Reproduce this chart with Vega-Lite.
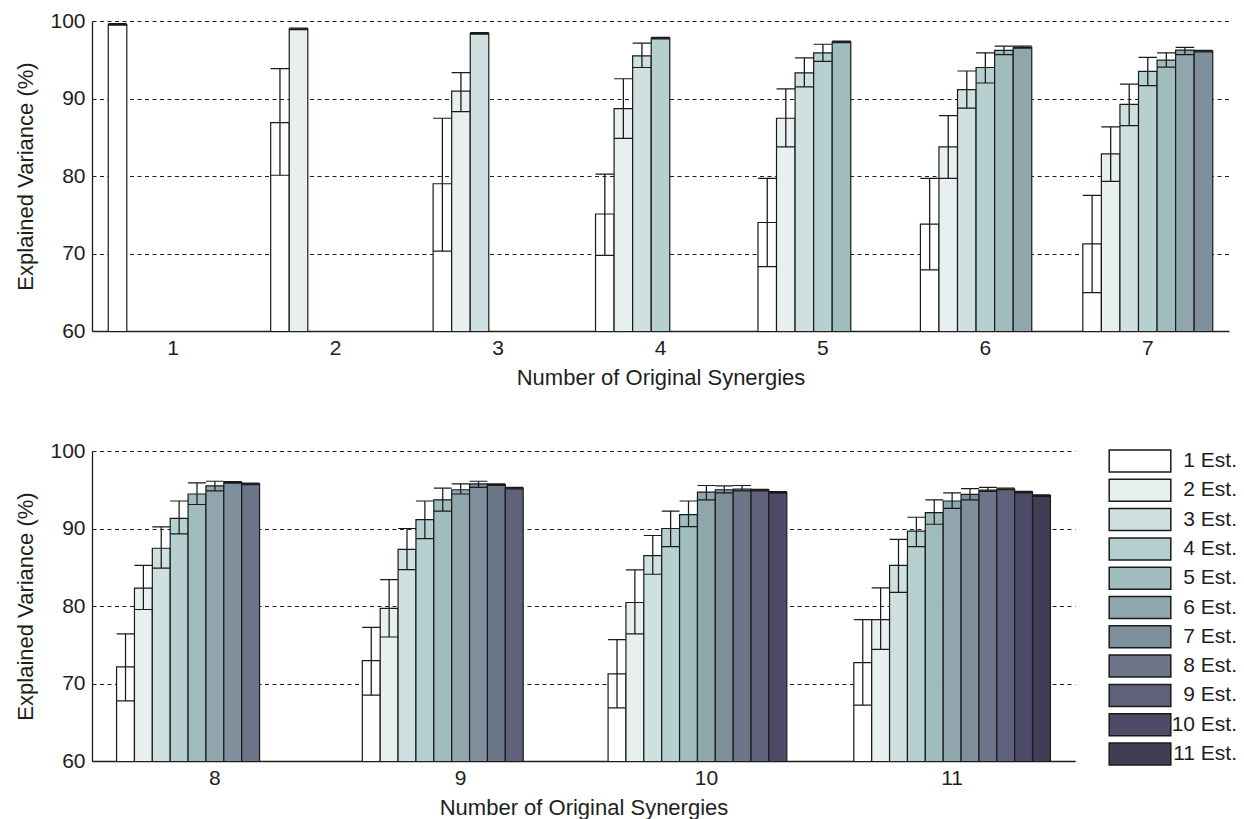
{
  "$schema": "https://vega.github.io/schema/vega-lite/v6.json",
  "background": "white",
  "padding": {"left": 14, "top": 10, "right": 4, "bottom": 4},
  "spacing": 52,
  "config": {
    "font": "Liberation Sans",
    "view": {"stroke": null},
    "axis": {
      "labelFontSize": 21,
      "titleFontSize": 22,
      "labelColor": "#1e1e1e",
      "titleColor": "#1e1e1e",
      "titleFontWeight": "normal",
      "domainColor": "#1e1e1e",
      "domainWidth": 1.3,
      "ticks": false
    },
    "legend": {
      "labelFontSize": 21,
      "labelColor": "#1e1e1e"
    }
  },
  "datasets": {
    "ev": [
      {"orig": 1, "est": 1, "mean": 99.55, "lo": 99.45, "hi": 99.65},
      {"orig": 2, "est": 1, "mean": 86.9, "lo": 80.1, "hi": 93.85},
      {"orig": 2, "est": 2, "mean": 99.0, "lo": 98.9, "hi": 99.1},
      {"orig": 3, "est": 1, "mean": 79.0, "lo": 70.3, "hi": 87.45},
      {"orig": 3, "est": 2, "mean": 90.95, "lo": 88.3, "hi": 93.35},
      {"orig": 3, "est": 3, "mean": 98.4, "lo": 98.3, "hi": 98.5},
      {"orig": 4, "est": 1, "mean": 75.1, "lo": 69.75, "hi": 80.25},
      {"orig": 4, "est": 2, "mean": 88.7, "lo": 84.85, "hi": 92.55},
      {"orig": 4, "est": 3, "mean": 95.5, "lo": 94.0, "hi": 97.15},
      {"orig": 4, "est": 4, "mean": 97.8, "lo": 97.7, "hi": 97.9},
      {"orig": 5, "est": 1, "mean": 74.0, "lo": 68.3, "hi": 79.7},
      {"orig": 5, "est": 2, "mean": 87.45, "lo": 83.75, "hi": 91.25},
      {"orig": 5, "est": 3, "mean": 93.3, "lo": 91.5, "hi": 95.25},
      {"orig": 5, "est": 4, "mean": 95.9, "lo": 94.8, "hi": 97.0},
      {"orig": 5, "est": 5, "mean": 97.3, "lo": 97.2, "hi": 97.4},
      {"orig": 6, "est": 1, "mean": 73.8, "lo": 67.9, "hi": 79.7},
      {"orig": 6, "est": 2, "mean": 83.75, "lo": 79.7, "hi": 87.8},
      {"orig": 6, "est": 3, "mean": 91.15, "lo": 88.75, "hi": 93.55},
      {"orig": 6, "est": 4, "mean": 94.0, "lo": 92.0, "hi": 95.9},
      {"orig": 6, "est": 5, "mean": 96.2, "lo": 95.65, "hi": 96.75},
      {"orig": 6, "est": 6, "mean": 96.6, "lo": 96.5, "hi": 96.75},
      {"orig": 7, "est": 1, "mean": 71.25, "lo": 64.95, "hi": 77.5},
      {"orig": 7, "est": 2, "mean": 82.85, "lo": 79.3, "hi": 86.35},
      {"orig": 7, "est": 3, "mean": 89.25, "lo": 86.5, "hi": 91.85},
      {"orig": 7, "est": 4, "mean": 93.5, "lo": 91.65, "hi": 95.3},
      {"orig": 7, "est": 5, "mean": 94.95, "lo": 94.05, "hi": 95.9},
      {"orig": 7, "est": 6, "mean": 96.25, "lo": 95.65, "hi": 96.6},
      {"orig": 7, "est": 7, "mean": 96.1, "lo": 96.0, "hi": 96.2},
      {"orig": 8, "est": 1, "mean": 72.15, "lo": 67.75, "hi": 76.4},
      {"orig": 8, "est": 2, "mean": 82.3, "lo": 79.55, "hi": 85.25},
      {"orig": 8, "est": 3, "mean": 87.45, "lo": 84.9, "hi": 90.2},
      {"orig": 8, "est": 4, "mean": 91.3, "lo": 89.3, "hi": 93.55},
      {"orig": 8, "est": 5, "mean": 94.45, "lo": 93.1, "hi": 95.9},
      {"orig": 8, "est": 6, "mean": 95.5, "lo": 94.85, "hi": 96.1},
      {"orig": 8, "est": 7, "mean": 95.95, "lo": 95.85, "hi": 96.05},
      {"orig": 8, "est": 8, "mean": 95.75, "lo": 95.65, "hi": 95.85},
      {"orig": 9, "est": 1, "mean": 72.95, "lo": 68.5, "hi": 77.25},
      {"orig": 9, "est": 2, "mean": 79.7, "lo": 76.0, "hi": 83.4},
      {"orig": 9, "est": 3, "mean": 87.3, "lo": 84.7, "hi": 90.0},
      {"orig": 9, "est": 4, "mean": 91.15, "lo": 88.7, "hi": 93.55},
      {"orig": 9, "est": 5, "mean": 93.7, "lo": 92.25, "hi": 95.2},
      {"orig": 9, "est": 6, "mean": 95.0, "lo": 94.45, "hi": 95.75},
      {"orig": 9, "est": 7, "mean": 95.75, "lo": 95.3, "hi": 96.1},
      {"orig": 9, "est": 8, "mean": 95.65, "lo": 95.55, "hi": 95.75},
      {"orig": 9, "est": 9, "mean": 95.2, "lo": 95.1, "hi": 95.3},
      {"orig": 10, "est": 1, "mean": 71.25, "lo": 66.85, "hi": 75.65},
      {"orig": 10, "est": 2, "mean": 80.45, "lo": 76.4, "hi": 84.65},
      {"orig": 10, "est": 3, "mean": 86.5, "lo": 84.1, "hi": 89.1},
      {"orig": 10, "est": 4, "mean": 90.0, "lo": 87.65, "hi": 92.25},
      {"orig": 10, "est": 5, "mean": 91.8, "lo": 90.25, "hi": 93.55},
      {"orig": 10, "est": 6, "mean": 94.7, "lo": 93.7, "hi": 95.55},
      {"orig": 10, "est": 7, "mean": 95.0, "lo": 94.6, "hi": 95.5},
      {"orig": 10, "est": 8, "mean": 95.1, "lo": 94.85, "hi": 95.55},
      {"orig": 10, "est": 9, "mean": 94.95, "lo": 94.85, "hi": 95.05},
      {"orig": 10, "est": 10, "mean": 94.65, "lo": 94.55, "hi": 94.75},
      {"orig": 11, "est": 1, "mean": 72.7, "lo": 67.2, "hi": 78.25},
      {"orig": 11, "est": 2, "mean": 78.25, "lo": 74.4, "hi": 82.35},
      {"orig": 11, "est": 3, "mean": 85.25, "lo": 81.75, "hi": 88.6},
      {"orig": 11, "est": 4, "mean": 89.65, "lo": 87.65, "hi": 91.45},
      {"orig": 11, "est": 5, "mean": 92.05, "lo": 90.55, "hi": 93.7},
      {"orig": 11, "est": 6, "mean": 93.55, "lo": 92.6, "hi": 94.6},
      {"orig": 11, "est": 7, "mean": 94.4, "lo": 93.7, "hi": 95.15},
      {"orig": 11, "est": 8, "mean": 94.95, "lo": 94.8, "hi": 95.3},
      {"orig": 11, "est": 9, "mean": 95.1, "lo": 95.0, "hi": 95.2},
      {"orig": 11, "est": 10, "mean": 94.7, "lo": 94.6, "hi": 94.8},
      {"orig": 11, "est": 11, "mean": 94.25, "lo": 94.15, "hi": 94.35}
    ]
  },
  "resolve": {"scale": {"color": "independent", "x": "independent", "xOffset": "independent"}},
  "vconcat": [
    {
      "width": 1137,
      "height": 310,
      "data": {"name": "ev"},
      "transform": [{"filter": "datum.orig <= 7"}],
      "resolve": {"scale": {"xOffset": "independent"}},
      "encoding": {
        "x": {
          "field": "orig", "type": "ordinal",
          "scale": {"domain": [1, 2, 3, 4, 5, 6, 7], "paddingInner": 0.2, "paddingOuter": 0.1},
          "axis": {"title": "Number of Original Synergies", "labelAngle": 0, "labelPadding": 6, "titlePadding": 9}
        }
      },
      "layer": [
        {
          "mark": {"type": "bar", "clip": true, "stroke": "#1a1a1a", "strokeWidth": 1.2, "opacity": 1},
          "encoding": {
            "xOffset": {
              "field": "est", "type": "ordinal",
              "scale": {"domain": [1, 2, 3, 4, 5, 6, 7], "paddingInner": 0, "paddingOuter": 0}
            },
            "y": {
              "field": "mean", "type": "quantitative",
              "scale": {"domain": [60, 100], "zero": false, "nice": false},
              "axis": {
                "title": "Explained Variance (%)", "values": [60, 70, 80, 90, 100],
                "grid": true, "gridColor": "#1e1e1e", "gridDash": [4, 3.5], "gridWidth": 1,
                "labelPadding": 7, "titlePadding": 12
              }
            },
            "y2": {"datum": 40},
            "color": {
              "field": "est", "type": "ordinal",
              "scale": {
                "domain": [1, 2, 3, 4, 5, 6, 7, 8, 9, 10, 11],
                "range": ["#ffffff", "#e7f0ef", "#cee0df", "#b6d0d0", "#a0bcbd", "#8fa7ac", "#7f8f9b", "#6d7589", "#5e6179", "#4e4b68", "#3f3e55"]
              },
              "legend": null
            }
          }
        },
        {
          "mark": {"type": "bar", "fill": "#1a1a1a", "strokeWidth": 0},
          "encoding": {
            "xOffset": {
              "field": "est", "type": "ordinal",
              "scale": {"domain": [1, 2, 3, 4, 5, 6, 7], "paddingInner": 0.93, "paddingOuter": 0.465}
            },
            "y": {"field": "lo", "type": "quantitative"},
            "y2": {"field": "hi"}
          }
        },
        {
          "mark": {"type": "bar", "fill": null, "stroke": "#1a1a1a", "strokeWidth": 1.2},
          "encoding": {
            "xOffset": {
              "field": "est", "type": "ordinal",
              "scale": {"domain": [1, 2, 3, 4, 5, 6, 7], "paddingInner": 0, "paddingOuter": 0}
            },
            "y": {"field": "hi", "type": "quantitative"},
            "y2": {"field": "hi"}
          }
        },
        {
          "mark": {"type": "bar", "fill": null, "stroke": "#1a1a1a", "strokeWidth": 1.2},
          "encoding": {
            "xOffset": {
              "field": "est", "type": "ordinal",
              "scale": {"domain": [1, 2, 3, 4, 5, 6, 7], "paddingInner": 0, "paddingOuter": 0}
            },
            "y": {"field": "lo", "type": "quantitative"},
            "y2": {"field": "lo"}
          }
        }
      ]
    },
    {
      "width": 983,
      "height": 310,
      "data": {"name": "ev"},
      "transform": [{"filter": "datum.orig >= 8"}],
      "resolve": {"scale": {"xOffset": "independent"}},
      "encoding": {
        "x": {
          "field": "orig", "type": "ordinal",
          "scale": {"domain": [8, 9, 10, 11], "paddingInner": 0.2, "paddingOuter": 0.1},
          "axis": {"title": "Number of Original Synergies", "labelAngle": 0, "labelPadding": 6, "titlePadding": 9}
        }
      },
      "layer": [
        {
          "mark": {"type": "bar", "clip": true, "stroke": "#1a1a1a", "strokeWidth": 1.2, "opacity": 1},
          "encoding": {
            "xOffset": {
              "field": "est", "type": "ordinal",
              "scale": {"domain": [1, 2, 3, 4, 5, 6, 7, 8, 9, 10, 11], "paddingInner": 0, "paddingOuter": 0}
            },
            "y": {
              "field": "mean", "type": "quantitative",
              "scale": {"domain": [60, 100], "zero": false, "nice": false},
              "axis": {
                "title": "Explained Variance (%)", "values": [60, 70, 80, 90, 100],
                "grid": true, "gridColor": "#1e1e1e", "gridDash": [4, 3.5], "gridWidth": 1,
                "labelPadding": 7, "titlePadding": 12
              }
            },
            "y2": {"datum": 40},
            "color": {
              "field": "est", "type": "ordinal",
              "scale": {
                "domain": [1, 2, 3, 4, 5, 6, 7, 8, 9, 10, 11],
                "range": ["#ffffff", "#e7f0ef", "#cee0df", "#b6d0d0", "#a0bcbd", "#8fa7ac", "#7f8f9b", "#6d7589", "#5e6179", "#4e4b68", "#3f3e55"]
              },
              "legend": {
                "title": null,
                "orient": "none",
                "legendX": 1036,
                "legendY": -2,
                "symbolType": "M-2.8,-1H2.8V1H-2.8Z",
                "symbolSize": 484,
                "symbolStrokeColor": "#1a1a1a",
                "symbolStrokeWidth": 1.5,
                "symbolOpacity": 1,
                "rowPadding": 1.3,
                "labelAlign": "right",
                "labelOffset": 85,
                "labelExpr": "datum.label + ' Est.'"
              }
            }
          }
        },
        {
          "mark": {"type": "bar", "fill": "#1a1a1a", "strokeWidth": 0},
          "encoding": {
            "xOffset": {
              "field": "est", "type": "ordinal",
              "scale": {"domain": [1, 2, 3, 4, 5, 6, 7, 8, 9, 10, 11], "paddingInner": 0.93, "paddingOuter": 0.465}
            },
            "y": {"field": "lo", "type": "quantitative"},
            "y2": {"field": "hi"}
          }
        },
        {
          "mark": {"type": "bar", "fill": null, "stroke": "#1a1a1a", "strokeWidth": 1.2},
          "encoding": {
            "xOffset": {
              "field": "est", "type": "ordinal",
              "scale": {"domain": [1, 2, 3, 4, 5, 6, 7, 8, 9, 10, 11], "paddingInner": 0, "paddingOuter": 0}
            },
            "y": {"field": "hi", "type": "quantitative"},
            "y2": {"field": "hi"}
          }
        },
        {
          "mark": {"type": "bar", "fill": null, "stroke": "#1a1a1a", "strokeWidth": 1.2},
          "encoding": {
            "xOffset": {
              "field": "est", "type": "ordinal",
              "scale": {"domain": [1, 2, 3, 4, 5, 6, 7, 8, 9, 10, 11], "paddingInner": 0, "paddingOuter": 0}
            },
            "y": {"field": "lo", "type": "quantitative"},
            "y2": {"field": "lo"}
          }
        }
      ]
    }
  ]
}
